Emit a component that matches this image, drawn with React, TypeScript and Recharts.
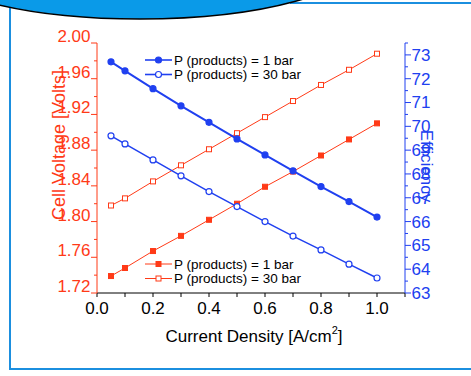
import React from "react";
import { LineChart, Line, XAxis, YAxis } from "recharts";

// current density [A/cm2] where the points were taken
const currentDensity = [0.05, 0.1, 0.2, 0.3, 0.4, 0.5, 0.6, 0.7, 0.8, 0.9, 1.0];
// cell voltage [V]
const voltage1bar = [1.739, 1.748, 1.767, 1.784, 1.802, 1.82, 1.839, 1.856, 1.874, 1.892, 1.91];
const voltage30bar = [1.818, 1.826, 1.845, 1.863, 1.881, 1.899, 1.917, 1.935, 1.953, 1.97, 1.988];
// efficiency [%]
const efficiency1bar = [72.71, 72.33, 71.58, 70.86, 70.17, 69.47, 68.8, 68.13, 67.47, 66.84, 66.19];
const efficiency30bar = [69.6, 69.26, 68.59, 67.92, 67.26, 66.63, 66.0, 65.39, 64.81, 64.21, 63.63];

const xTicks = [0, 0.1, 0.2, 0.3, 0.4, 0.5, 0.6, 0.7, 0.8, 0.9, 1.0, 1.1];
const voltageTicks = Array.from({ length: 15 }, (_, i) => +(1.72 + 0.02 * i).toFixed(2));
const efficiencyTicks = Array.from({ length: 22 }, (_, i) => 63 + 0.5 * i);
const legendLabels = ["P (products) = 1 bar", "P (products) = 30 bar"];

const data = currentDensity.map((x, i) => ({
  x,
  v1: voltage1bar[i],
  v30: voltage30bar[i],
  e1: efficiency1bar[i],
  e30: efficiency30bar[i],
}));

const RED = "#ff3a17";
const BLUE = "#2040f0";
const FRAME = "#1b8fdf";
const FONT = "'Liberation Sans', Arial, sans-serif";

const LeftTick = ({ x, y, payload }: any) => {
  const v = payload.value;
  const major = Math.round((v - 1.72) / 0.02) % 2 === 0;
  return (
    <g>
      <line x1={x} x2={x - (major ? 6 : 3)} y1={y} y2={y} stroke={RED} />
      {major && (
        <text x={x - 6.5} y={y - 7} dy="0.35em" textAnchor="end" fill={RED} fontSize={17} fontFamily={FONT}>
          {v.toFixed(2)}
        </text>
      )}
    </g>
  );
};

const RightTick = ({ x, y, payload }: any) => {
  const v = payload.value;
  const major = Number.isInteger(v);
  return (
    <g>
      <line x1={x} x2={x + (major ? 6 : 3)} y1={y} y2={y} stroke={BLUE} />
      {major && (
        <text x={x + 6.5} y={y} dy="0.35em" textAnchor="start" fill={BLUE} fontSize={17} fontFamily={FONT}>
          {v}
        </text>
      )}
    </g>
  );
};

const BottomTick = ({ x, y, payload }: any) => {
  const v = payload.value;
  const labelled = Math.round(v * 10) % 2 === 0 && v <= 1.0001;
  return (
    <g>
      <line x1={x} x2={x} y1={y} y2={y + 4} stroke="#000" />
      {labelled && (
        <text x={x} y={y + 8.5} dy="0.71em" textAnchor="middle" fill="#000" fontSize={17} fontFamily={FONT}>
          {v.toFixed(1)}
        </text>
      )}
    </g>
  );
};

const TopTick = ({ x, y }: any) => <line x1={x} x2={x} y1={y} y2={y + 3} stroke="#000" />;

const square = (filled: boolean) => (props: any) => (
  <rect
    key={props.index}
    x={props.cx - 2.5}
    y={props.cy - 2.5}
    width={5}
    height={5}
    fill={filled ? RED : "#fff"}
    stroke={RED}
    strokeWidth={1}
  />
);

const circle = (filled: boolean) => (props: any) => (
  <circle key={props.index} cx={props.cx} cy={props.cy} r={3} fill={filled ? BLUE : "#fff"} stroke={BLUE} strokeWidth={1.2} />
);

const LegendRow = ({ y, color, filled, kind, label }: any) => (
  <g>
    <line x1={145} x2={172} y1={y} y2={y} stroke={color} strokeWidth={kind === "circle" ? 1.6 : 1} />
    {kind === "circle" ? (
      <circle cx={158.5} cy={y} r={3} fill={filled ? color : "#fff"} stroke={color} strokeWidth={1.2} />
    ) : (
      <rect x={156} y={y - 2.5} width={5} height={5} fill={filled ? color : "#fff"} stroke={color} />
    )}
    <text x={174} y={y} dy="0.35em" fontSize={13.5} fontFamily={FONT} fill="#000">
      {label}
    </text>
  </g>
);

export default function App() {
  return (
    <div style={{ position: "fixed", left: 0, top: 0, width: 471, height: 376, background: "#fff" }}>
      <LineChart width={471} height={376} data={data} margin={{ top: 43, right: 0, bottom: 0, left: 0 }}>
        <XAxis
          dataKey="x"
          type="number"
          domain={[0, 1.1]}
          ticks={xTicks}
          interval={0}
          height={83}
          tickSize={0}
          tickMargin={0}
          tickLine={false}
          axisLine={{ stroke: "#000" }}
          tick={<BottomTick />}
        />
        <XAxis
          xAxisId="top"
          orientation="top"
          dataKey="x"
          type="number"
          domain={[0, 1.1]}
          ticks={xTicks}
          interval={0}
          height={0}
          tickSize={0}
          tickMargin={0}
          tickLine={false}
          axisLine={{ stroke: "#000" }}
          tick={<TopTick />}
        />
        <YAxis
          yAxisId="left"
          type="number"
          domain={[1.72, 2.0]}
          ticks={voltageTicks}
          interval={0}
          width={97}
          tickSize={0}
          tickMargin={0}
          tickLine={false}
          axisLine={{ stroke: RED }}
          tick={<LeftTick />}
          allowDataOverflow
        />
        <YAxis
          yAxisId="right"
          orientation="right"
          type="number"
          domain={[63, 73.5]}
          ticks={efficiencyTicks}
          interval={0}
          width={66}
          tickSize={0}
          tickMargin={0}
          tickLine={false}
          axisLine={{ stroke: BLUE }}
          tick={<RightTick />}
          allowDataOverflow
        />
        <Line yAxisId="left" dataKey="v1" stroke={RED} strokeWidth={1} dot={square(true)} isAnimationActive={false} />
        <Line yAxisId="left" dataKey="v30" stroke={RED} strokeWidth={1} dot={square(false)} isAnimationActive={false} />
        <Line yAxisId="right" dataKey="e1" stroke={BLUE} strokeWidth={2} dot={circle(true)} isAnimationActive={false} />
        <Line yAxisId="right" dataKey="e30" stroke={BLUE} strokeWidth={1.5} dot={circle(false)} isAnimationActive={false} />
      </LineChart>
      <svg width={471} height={376} style={{ position: "absolute", left: 0, top: 0, pointerEvents: "none" }}>
        {/* slide frame */}
        <line x1={290} x2={471} y1={3} y2={3} stroke={FRAME} strokeWidth={2} />
        <line x1={10} x2={10} y1={4} y2={370} stroke={FRAME} strokeWidth={2} />
        <line x1={9} x2={471} y1={369} y2={369} stroke={FRAME} strokeWidth={2} />
        <ellipse cx={140} cy={-41.5} rx={220} ry={60.5} fill="#0a9ae8" stroke="#000" strokeWidth={1.5} />

        {/* axis titles */}
        <text
          transform="translate(65,145) rotate(-90)"
          textAnchor="middle"
          fill={RED}
          fontSize={18}
          fontFamily={FONT}
        >
          Cell Voltage [Volts]
        </text>
        <text
          transform="translate(421,166) rotate(90)"
          textAnchor="middle"
          fill={BLUE}
          fontSize={17}
          fontFamily={FONT}
        >
          Efficiency
        </text>
        <text x={254} y={342} textAnchor="middle" fontSize={17} fontFamily={FONT} fill="#000">
          Current Density [A/cm
          <tspan dy={-8} fontSize={11}>2</tspan>
          <tspan dy={8}>]</tspan>
        </text>

        {/* legends */}
        <LegendRow y={60} color={BLUE} filled kind="circle" label={legendLabels[0]} />
        <LegendRow y={74.5} color={BLUE} filled={false} kind="circle" label={legendLabels[1]} />
        <LegendRow y={264} color={RED} filled kind="square" label={legendLabels[0]} />
        <LegendRow y={278.5} color={RED} filled={false} kind="square" label={legendLabels[1]} />
      </svg>
    </div>
  );
}
